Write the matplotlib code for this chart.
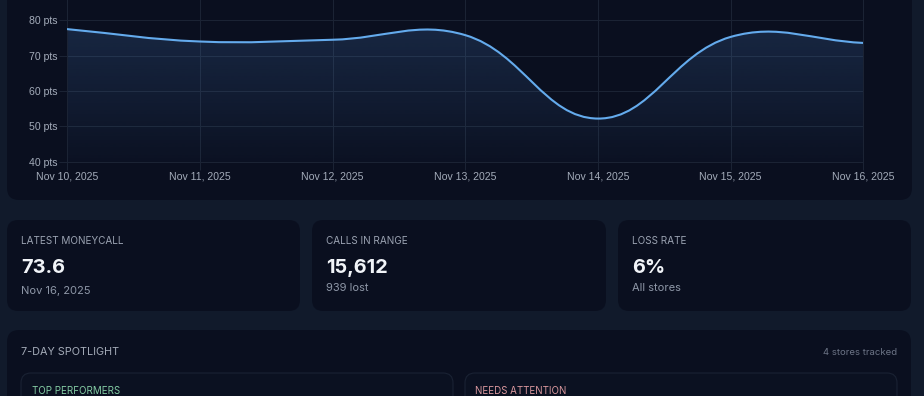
import numpy as np
import matplotlib
matplotlib.use("Agg")
import matplotlib.pyplot as plt
from matplotlib.patches import FancyBboxPatch, PathPatch
from matplotlib.path import Path

# ---------------- data ----------------
dates = ["Nov 10, 2025", "Nov 11, 2025", "Nov 12, 2025", "Nov 13, 2025",
         "Nov 14, 2025", "Nov 15, 2025", "Nov 16, 2025"]
values = [77.5, 74.0, 74.5, 75.8, 52.2, 75.3, 73.6]
y_ticks = [40, 50, 60, 70, 80]
y_tick_labels = ["40 pts", "50 pts", "60 pts", "70 pts", "80 pts"]

stat_labels = ["LATEST MONEYCALL", "CALLS IN RANGE", "LOSS RATE"]
stat_values = ["73.6", "15,612", "6%"]
stat_subs = ["Nov 16, 2025", "939 lost", "All stores"]

spotlight_title = "7-DAY SPOTLIGHT"
spotlight_note = "4 stores tracked"
panel_titles = ["TOP PERFORMERS", "NEEDS ATTENTION"]

# ---------------- style ----------------
PAGE = "#111a2b"
CARD = "#0a0f1f"
GRID = "#1b2334"
LINE = "#64abed"
TICK_TXT = "#a3abb9"
LABEL_TXT = "#9aa2b1"
SUB_TXT = "#8e97a7"
BIG_TXT = "#f1f4f8"
UI_FONT = ["Inter", "DejaVu Sans"]
AX_FONT = ["Liberation Sans", "DejaVu Sans"]

W, H = 924, 396
fig = plt.figure(figsize=(W / 100, H / 100), dpi=100, facecolor=PAGE)

# background layer in pixel coordinates
bg = fig.add_axes([0, 0, 1, 1], zorder=0)
bg.set_xlim(0, W)
bg.set_ylim(H, 0)
bg.axis("off")


def card(x0, y0, x1, y1, r=12, face=CARD, edge="none", lw=0):
    p = FancyBboxPatch((x0, y0), x1 - x0, y1 - y0,
                       boxstyle=f"round,pad=0,rounding_size={r}",
                       facecolor=face, edgecolor=edge, linewidth=lw)
    bg.add_patch(p)


# chart card
card(7, -30, 912, 200, r=12)
# stat cards
stat_boxes = [(7, 300), (312, 606), (618, 911)]
for (x0, x1) in stat_boxes:
    card(x0, 220, x1, 311, r=11)
# spotlight card
card(7, 330, 911, 430, r=12)
card(21, 373, 453, 430, r=10, face="#0b1121", edge="#1a2233", lw=0.8)
card(465, 373, 897, 430, r=10, face="#0b1121", edge="#1a2233", lw=0.8)

# stat texts
for (x0, x1), lab, val, sub, suby in zip(stat_boxes, stat_labels, stat_values,
                                          stat_subs, [293.8, 290.7, 290.7]):
    tx = x0 + 14
    bg.text(tx, 243.7, lab, fontsize=7.2, color=LABEL_TXT, family=UI_FONT,
            va="baseline", ha="left")
    bg.text(tx, 272.7, val, fontsize=14.4, color=BIG_TXT, family=UI_FONT,
            fontweight="bold", va="baseline", ha="left")
    bg.text(tx, suby, sub, fontsize=8, color=SUB_TXT, family=UI_FONT,
            va="baseline", ha="left")

bg.text(20.7, 355.3, spotlight_title, fontsize=7.8, color="#a4abb8",
        family=UI_FONT, va="baseline", ha="left")
bg.text(897.3, 355.3, spotlight_note, fontsize=6.9, color="#6c7486",
        family=UI_FONT, va="baseline", ha="right")
bg.text(32, 394, panel_titles[0], fontsize=7, color="#84cca4",
        family=UI_FONT, va="baseline", ha="left")
bg.text(475.3, 394, panel_titles[1], fontsize=7, color="#d9979d",
        family=UI_FONT, va="baseline", ha="left")

# ---------------- chart ----------------
x_left, x_right = 67.3, 863.3
y_bottom_px = 161.7
ax = fig.add_axes([x_left / W, (H - y_bottom_px) / H,
                   (x_right - x_left) / W, y_bottom_px / H], zorder=1)
ax.set_facecolor("none")
x = np.arange(len(values))
px_per_pt = (161.7 - 20.3) / 40.0
y_top = 80 + 20.3 / px_per_pt
ax.set_xlim(0, len(values) - 1)
ax.set_ylim(40, y_top)

# Chart.js-style spline (tension 0.4), control points computed in pixel space
pts = np.column_stack([x, values]).astype(float)
pts_px = ax.transData.transform(pts)
t = 0.4
n = len(pts)
prev_cp = np.zeros_like(pts_px)
next_cp = np.zeros_like(pts_px)
for i in range(n):
    cur = pts_px[i]
    prv = pts_px[i - 1] if i > 0 else cur
    nxt = pts_px[i + 1] if i < n - 1 else cur
    d01 = np.hypot(*(cur - prv))
    d12 = np.hypot(*(nxt - cur))
    s = d01 + d12
    s01 = d01 / s if s else 0.0
    s12 = d12 / s if s else 0.0
    prev_cp[i] = cur - t * s01 * (nxt - prv)
    next_cp[i] = cur + t * s12 * (nxt - prv)
inv = ax.transData.inverted()
prev_cp = inv.transform(prev_cp)
next_cp = inv.transform(next_cp)

verts = [tuple(pts[0])]
codes = [Path.MOVETO]
for i in range(n - 1):
    verts += [tuple(next_cp[i]), tuple(prev_cp[i + 1]), tuple(pts[i + 1])]
    codes += [Path.CURVE4] * 3
curve = Path(verts, codes)

fill_verts = verts + [(x[-1], 40), (x[0], 40), verts[0]]
fill_codes = codes + [Path.LINETO, Path.LINETO, Path.CLOSEPOLY]
fill_path = Path(fill_verts, fill_codes)

# gradient fill
grad = np.zeros((256, 1, 4))
grad[..., 0] = 96 / 255
grad[..., 1] = 165 / 255
grad[..., 2] = 250 / 255
grad[:, 0, 3] = np.linspace(0.02, 0.19, 256)
im = ax.imshow(grad, extent=[x[0], x[-1], 40, y_top], origin="lower",
               aspect="auto", interpolation="bilinear", zorder=1)
clip = PathPatch(fill_path, transform=ax.transData, facecolor="none",
                 edgecolor="none")
ax.add_patch(clip)
im.set_clip_path(clip)

ax.add_patch(PathPatch(curve, facecolor="none", edgecolor=LINE, lw=1.5,
                       capstyle="round", joinstyle="round", zorder=3))

ax.set_xlim(0, len(values) - 1)
ax.set_ylim(40, y_top)

ax.set_xticks(x)
ax.set_xticklabels(dates, family=AX_FONT)
ax.set_yticks(y_ticks)
ax.set_yticklabels(y_tick_labels, family=AX_FONT)
ax.tick_params(axis="both", colors=GRID, labelcolor=TICK_TXT, length=5.5,
               width=0.75, labelsize=7.6, direction="out")
ax.tick_params(axis="y", pad=1.3)
ax.tick_params(axis="x", pad=1.6)
ax.grid(True, color=GRID, lw=0.75, zorder=0)
ax.set_axisbelow(True)
ax.spines["top"].set_visible(False)
for s in ["left", "bottom", "right"]:
    ax.spines[s].set_color(GRID)
    ax.spines[s].set_linewidth(0.75)

fig.savefig("out.png", dpi=100, facecolor=PAGE)
